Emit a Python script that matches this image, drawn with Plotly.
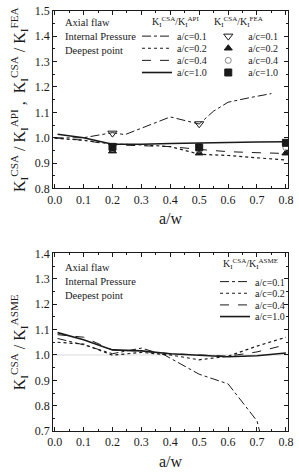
import plotly.graph_objects as go

# ---------------- data: top panel (K_CSA/K_API lines, K_CSA/K_FEA markers)
aw_top_01 = [0.0, 0.1, 0.2, 0.243, 0.4, 0.5, 0.55, 0.6, 0.675, 0.75]
api_01 = [0.999, 1.0, 1.02, 1.012, 1.082, 1.054, 1.105, 1.14, 1.158, 1.174]
aw_top = [0.0, 0.1, 0.2, 0.3, 0.4, 0.5, 0.6, 0.7, 0.8]
api_02 = [0.998, 0.99, 0.975, 0.972, 0.965, 0.935, 0.930, 0.922, 0.912]
api_04 = [1.0, 0.99, 0.972, 0.970, 0.965, 0.954, 0.945, 0.941, 0.938]
aw_top_10 = [0.01, 0.1, 0.2, 0.3, 0.4, 0.5, 0.6, 0.7, 0.8]
api_10 = [1.014, 1.0, 0.974, 0.974, 0.977, 0.978, 0.981, 0.983, 0.984]

fea_aw_01 = [0.2, 0.5]
fea_01 = [1.018, 1.055]
fea_aw = [0.2, 0.5, 0.8]
fea_02 = [0.947, 0.939, 0.939]
fea_04 = [0.958, 0.955, 0.961]
fea_10 = [0.964, 0.962, 0.980]

# ---------------- data: bottom panel (K_CSA/K_ASME)
aw_b_01 = [0.01, 0.1, 0.2, 0.3, 0.38, 0.45, 0.5, 0.6, 0.7, 0.709]
asme_01 = [1.065, 1.04, 1.005, 1.027, 1.0, 0.956, 0.924, 0.886, 0.74, 0.70]
aw_b = [0.01, 0.1, 0.2, 0.3, 0.4, 0.5, 0.6, 0.7, 0.8]
asme_02 = [1.05, 1.043, 0.999, 1.01, 1.0, 0.981, 0.995, 1.035, 1.07]
asme_04 = [1.08, 1.07, 1.02, 1.015, 1.005, 1.0, 0.995, 1.012, 1.04]
asme_10 = [1.088, 1.06, 1.02, 1.016, 1.005, 0.998, 0.993, 0.997, 1.008]
ref_level = 1.0

labels = ["a/c=0.1", "a/c=0.2", "a/c=0.4", "a/c=1.0"]
notes = ["Axial flaw", "Internal Pressure", "Deepest point"]
xtitle = "a/w"
title_api = "K<sub>I</sub><sup>CSA</sup>/K<sub>I</sub><sup>API</sup>"
title_fea = "K<sub>I</sub><sup>CSA</sup>/K<sub>I</sub><sup>FEA</sup>"
title_asme = "K<sub>I</sub><sup>CSA</sup>/K<sub>I</sub><sup>ASME</sup>"
ytitle_top = ("K<sub>I</sub><sup>CSA</sup> / K<sub>I</sub><sup>API</sup> ,  "
              "K<sub>I</sub><sup>CSA</sup> / K<sub>I</sub><sup>FEA</sup>")
ytitle_bot = "K<sub>I</sub><sup>CSA</sup> / K<sub>I</sub><sup>ASME</sup>"

FONT = "Liberation Serif"
INK = "#1a1a1a"
H, W = 473, 299

fig = go.Figure()

line_styles = [("dashdot", 1.0), ("dot", 1.2), ("dash", 1.0), ("solid", 1.6)]
marker_styles = [("triangle-down-open", 8, INK), ("triangle-up", 7, INK),
                 ("circle-open", 6, "#888888"), ("square", 7, INK)]

# legend slots: one single-entry legend per row so rows can be packed tightly
legend_layout = {}
leg_n = [0]


def new_legend(x_px, y_px):
    leg_n[0] += 1
    key = "legend" if leg_n[0] == 1 else f"legend{leg_n[0]}"
    legend_layout[key] = dict(x=x_px / W, y=1 - y_px / H, xanchor="left", yanchor="middle",
                              bgcolor="rgba(0,0,0,0)", borderwidth=0, itemwidth=30,
                              font=dict(family=FONT, size=10, color=INK))
    return key


top_rows = [30, 42.5, 55, 67.5]
bot_rows = [283, 295, 307, 319]

top_lines = [(aw_top_01, api_01), (aw_top, api_02), (aw_top, api_04), (aw_top_10, api_10)]
for (xs, ys), lab, (dash, w), ry in zip(top_lines, labels, line_styles, top_rows):
    fig.add_trace(go.Scatter(x=xs, y=ys, mode="lines", name=lab,
                             line=dict(color=INK, dash=dash, width=w),
                             xaxis="x", yaxis="y", legend=new_legend(136, ry)))

top_marks = [(fea_aw_01, fea_01), (fea_aw, fea_02), (fea_aw, fea_04), (fea_aw, fea_10)]
for (xs, ys), lab, (sym, sz, col), ry in zip(top_marks, labels, marker_styles, top_rows):
    fig.add_trace(go.Scatter(x=xs, y=ys, mode="markers", name=lab,
                             marker=dict(symbol=sym, size=sz, color=col,
                                         line=dict(color=col, width=1)),
                             xaxis="x", yaxis="y", legend=new_legend(210, ry)))

bot_lines = [(aw_b_01, asme_01), (aw_b, asme_02), (aw_b, asme_04), (aw_b, asme_10)]
for (xs, ys), lab, (dash, w), ry in zip(bot_lines, labels, line_styles, bot_rows):
    fig.add_trace(go.Scatter(x=xs, y=ys, mode="lines", name=lab,
                             line=dict(color=INK, dash=dash, width=w),
                             xaxis="x2", yaxis="y2", legend=new_legend(217, ry)))

fig.add_shape(type="line", xref="x2 domain", yref="y2", x0=0, x1=1, y0=ref_level, y1=ref_level,
              line=dict(color="#d0d0d0", width=0.8), layer="below")

xdom = [49 / W, 293 / W]
ytop = [1 - 187 / H, 1 - 4 / H]
ybot = [1 - 437 / H, 1 - 254 / H]


def xaxis_cfg(anchor):
    return dict(domain=xdom, anchor=anchor, range=[-0.005, 0.808], dtick=0.1, tick0=0,
                tickformat=".1f", ticks="inside", ticklen=4, tickcolor=INK,
                showline=True, linecolor=INK, linewidth=1, mirror="ticks",
                showgrid=False, zeroline=False,
                minor=dict(ticks="inside", ticklen=2, dtick=0.05, tickcolor=INK),
                tickfont=dict(family=FONT, size=12, color=INK))


def yaxis_cfg(anchor, dom, rng, title):
    return dict(domain=dom, anchor=anchor, range=rng, dtick=0.1, tick0=0,
                tickformat=".1f", ticks="inside", ticklen=4, tickcolor=INK,
                showline=True, linecolor=INK, linewidth=1, mirror="ticks",
                showgrid=False, zeroline=False,
                minor=dict(ticks="inside", ticklen=2, dtick=0.05, tickcolor=INK),
                tickfont=dict(family=FONT, size=12, color=INK),
                title=dict(text=title, font=dict(family=FONT, size=16, color=INK), standoff=5))


fig.update_layout(
    width=W, height=H,
    margin=dict(l=0, r=0, t=0, b=0),
    paper_bgcolor="white", plot_bgcolor="white",
    font=dict(family=FONT, color=INK),
    xaxis=xaxis_cfg("y"),
    yaxis=yaxis_cfg("x", ytop, [0.8, 1.5], ytitle_top),
    xaxis2=xaxis_cfg("y2"),
    yaxis2=yaxis_cfg("x2", ybot, [0.7, 1.4], ytitle_bot),
    showlegend=True,
    **legend_layout,
)

# x-axis titles
for cy in (218, 468):
    fig.add_annotation(text=xtitle, xref="paper", yref="paper", x=171 / W, y=1 - cy / H,
                       xanchor="center", yanchor="middle", showarrow=False,
                       font=dict(family=FONT, size=16, color=INK))

# legend column headers
for text, cx, cy in [(title_api, 176, 15), (title_fea, 241, 15), (title_asme, 254, 265)]:
    fig.add_annotation(text=text, xref="paper", yref="paper", x=cx / W, y=1 - cy / H,
                       xanchor="center", yanchor="middle", showarrow=False,
                       font=dict(family=FONT, size=10, color=INK))

for i, t in enumerate(notes):
    for y0 in (16, 268):
        fig.add_annotation(text=t, xref="paper", yref="paper", x=59 / W,
                           y=1 - (y0 + 14.5 * i) / H,
                           xanchor="left", yanchor="middle", showarrow=False,
                           font=dict(family=FONT, size=10.5, color=INK))

fig.write_html("out.html")
